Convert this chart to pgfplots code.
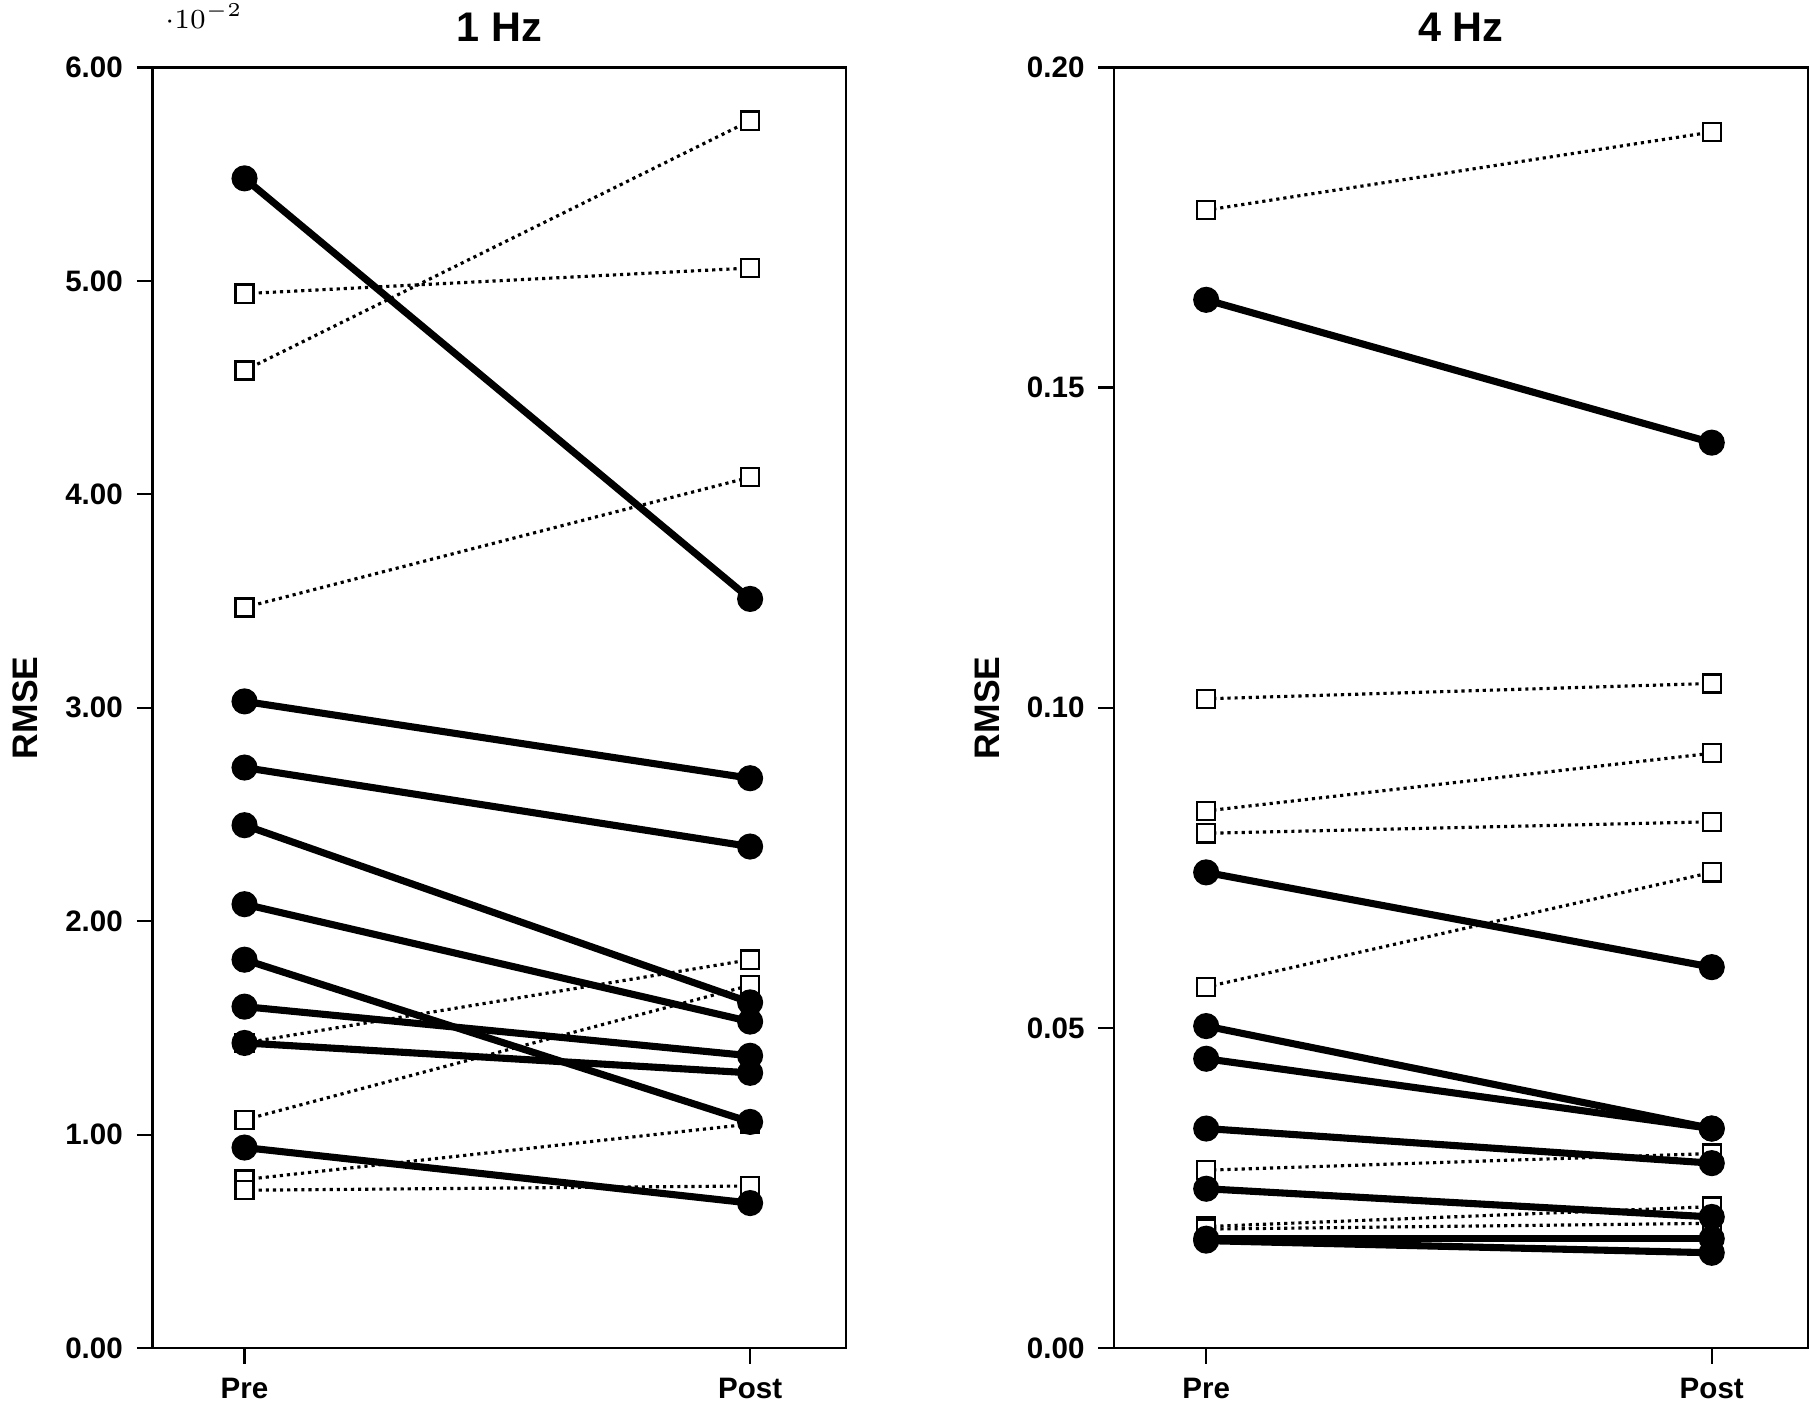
\documentclass[border=0pt]{standalone}
\usepackage{pgfplots}
\pgfplotsset{compat=1.18}
\usepackage{fontspec}
\setmainfont{Liberation Sans}
\pgfplotsset{
 myax/.style={scale only axis, width=176pt, height=325pt, xmin=-0.182, xmax=1.19, ymin=0,
  xtick={0,1}, xticklabels={Pre,Post}, tick align=outside, xtick pos=bottom, ytick pos=left,
  major tick length=4pt, font=\bfseries\fontsize{7.5}{9}\selectfont,
  /pgf/number format/assume math mode=true, /pgf/number format/fixed, /pgf/number format/fixed zerofill,
  /pgf/number format/precision=2, ylabel={RMSE}, ylabel style={font=\bfseries\fontsize{9}{11}\selectfont},
  title style={font=\bfseries\fontsize{10.5}{12}\selectfont, yshift=-3pt}, tick style={black, semithick}, axis line style={semithick}},
 sol/.style={black, line width=1.8pt, mark=*, mark size=2.4pt, mark options={fill=black}},
 dot/.style={black, densely dotted, thick, mark=square*, mark size=2.3pt, mark options={solid, fill=white, line width=0.6pt}}
}
\newcommand{\Sl}[2]{\addplot[sol] coordinates {(0,#1) (1,#2)};}
\newcommand{\Dt}[2]{\addplot[dot] coordinates {(0,#1) (1,#2)};}
\begin{document}
\begin{tikzpicture}
\begin{axis}[myax, title={1 Hz}, ymax=0.06, ytick={0,0.01,...,0.06}]
\Dt{0.0494}{0.0506}\Dt{0.0458}{0.0575}\Dt{0.0347}{0.0408}\Dt{0.0143}{0.0182}
\Dt{0.0107}{0.0170}\Dt{0.0079}{0.0105}\Dt{0.0074}{0.0076}
\Sl{0.0548}{0.0351}\Sl{0.0303}{0.0267}\Sl{0.0272}{0.0235}\Sl{0.0245}{0.0162}
\Sl{0.0208}{0.0153}\Sl{0.0182}{0.0106}\Sl{0.0160}{0.0137}\Sl{0.0143}{0.0129}\Sl{0.0094}{0.0068}
\end{axis}
\begin{axis}[myax, xshift=244pt, title={4 Hz}, ymax=0.20, ytick={0,0.05,...,0.20}]
\Dt{0.1777}{0.1899}\Dt{0.1014}{0.1038}\Dt{0.0839}{0.0929}\Dt{0.0804}{0.0822}
\Dt{0.0564}{0.0743}\Dt{0.0278}{0.0304}\Dt{0.0190}{0.0221}\Dt{0.0186}{0.0195}
\Sl{0.1637}{0.1414}\Sl{0.0743}{0.0595}\Sl{0.0503}{0.0343}\Sl{0.0452}{0.0343}
\Sl{0.0343}{0.0289}\Sl{0.0249}{0.0205}\Sl{0.0171}{0.0171}\Sl{0.0168}{0.0149}
\end{axis}
\end{tikzpicture}
\end{document}
